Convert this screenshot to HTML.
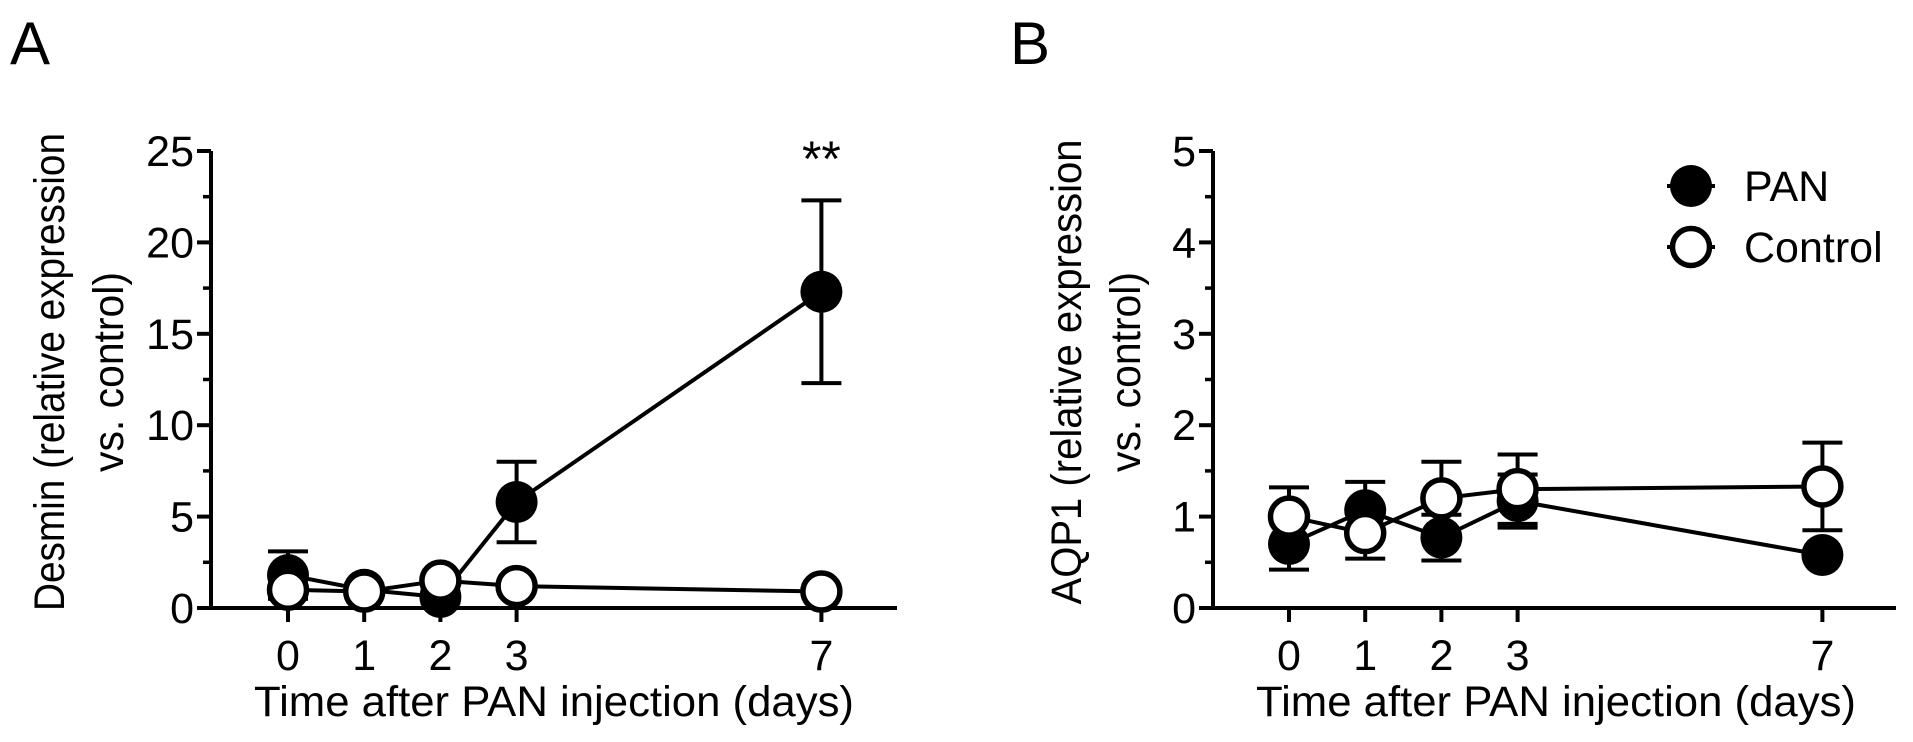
<!DOCTYPE html>
<html><head><meta charset="utf-8">
<style>
html,body{margin:0;padding:0;background:#fff;}
svg{display:block;font-family:"Liberation Sans",Arial,sans-serif;}
</style></head>
<body>
<svg id="fig" width="1913" height="742" viewBox="0 0 1913 742">
  <text x="10" y="64" font-size="60">A</text>
  <text x="1010" y="64" font-size="60">B</text>
</svg>
<script>
const days = [0, 1, 2, 3, 7];
const dayLabels = ["0", "1", "2", "3", "7"];
const desminPan = [1.8, 1.0, 0.6, 5.8, 17.3];
const desminPanErr = [1.3, 0.3, 0.3, 2.2, 5.0];
const desminCtl = [1.0, 0.9, 1.5, 1.2, 0.9];
const desminCtlErr = [0.3, 0.2, 0.2, 0.2, 0.2];
const desminTicks = [0, 5, 10, 15, 20, 25];
const aqpPan = [0.7, 1.07, 0.77, 1.17, 0.58];
const aqpPanErr = [0.28, 0.31, 0.25, 0.29, 0.05];
const aqpCtl = [1.0, 0.82, 1.2, 1.3, 1.33];
const aqpCtlErr = [0.32, 0.28, 0.4, 0.38, 0.48];
const aqpTicks = [0, 1, 2, 3, 4, 5];

const NS = "http://www.w3.org/2000/svg";
const svg = document.getElementById("fig");
const SW = 4;
function mk(tag, attrs, parent) {
  const e = document.createElementNS(NS, tag);
  for (const k in attrs) e.setAttribute(k, attrs[k]);
  (parent || svg).appendChild(e);
  return e;
}

function panel(cfg) {
  const g = mk("g", {});
  
  
  const x = d => cfg.x0 + d * cfg.dx;
  const y = v => cfg.y0 - (v / cfg.ymax) * (cfg.y0 - cfg.y1);
  const ya = mk("line", {x1: cfg.ax, y1: y(0), x2: cfg.ax, y2: y(cfg.ymax), stroke: "#000", "stroke-width": SW}, g);
  
  
  cfg.ticks.forEach((t, i) => {
    mk("line", {x1: cfg.ax - 14, y1: y(t), x2: cfg.ax, y2: y(t), stroke: "#000", "stroke-width": SW}, g);
    if (i < cfg.ticks.length - 1) {
      const m = (t + cfg.ticks[i + 1]) / 2;
      mk("line", {x1: cfg.ax - 8, y1: y(m), x2: cfg.ax, y2: y(m), stroke: "#000", "stroke-width": 3.5}, g);
    }
    const tl = mk("text", {x: cfg.ax - 17, y: y(t) + 15, "font-size": 43, "text-anchor": "end"}, g);
    tl.textContent = String(t);
    
    
  });
  const xa = mk("line", {x1: cfg.ax - 2, y1: y(0), x2: cfg.xend, y2: y(0), stroke: "#000", "stroke-width": SW}, g);
  
  
  days.forEach((d, i) => {
    mk("line", {x1: x(d), y1: y(0), x2: x(d), y2: y(0) + 14, stroke: "#000", "stroke-width": SW}, g);
    const tl = mk("text", {x: x(d), y: y(0) + 62, "font-size": 43, "text-anchor": "middle"}, g);
    tl.textContent = dayLabels[i];
    
    
  });
  const xt = mk("text", {x: cfg.xtitle, y: 716, "font-size": 43, "text-anchor": "middle", textLength: 600, lengthAdjust: "spacingAndGlyphs"}, g);
  xt.textContent = "Time after PAN injection (days)";
  
  
  const yt = mk("text", {transform: `translate(${cfg.ytx},372) rotate(-90)`, "font-size": 43, "text-anchor": "middle", textLength: cfg.ylen, lengthAdjust: "spacingAndGlyphs"}, g);
  yt.textContent = cfg.ytitle1;
  
  
  const yt2 = mk("text", {transform: `translate(${cfg.ytx + 59},372) rotate(-90)`, "font-size": 43, "text-anchor": "middle", textLength: 200, lengthAdjust: "spacingAndGlyphs"}, g);
  yt2.textContent = "vs. control)";
  
  

  function series(vals, errs, filled, nm) {
    const sg = mk("g", {}, g);
    
    
    const pts = days.map((d, i) => x(d) + "," + y(vals[i])).join(" ");
    mk("polyline", {points: pts, fill: "none", stroke: "#000", "stroke-width": SW}, sg);
    days.forEach((d, i) => {
      const cx = x(d), hi = y(vals[i] + errs[i]), lo = y(Math.max(0, vals[i] - errs[i]));
      mk("line", {x1: cx, y1: hi, x2: cx, y2: lo, stroke: "#000", "stroke-width": SW}, sg);
      mk("line", {x1: cx - 20, y1: hi, x2: cx + 20, y2: hi, stroke: "#000", "stroke-width": SW}, sg);
      mk("line", {x1: cx - 20, y1: lo, x2: cx + 20, y2: lo, stroke: "#000", "stroke-width": SW}, sg);
    });
    days.forEach((d, i) => {
      const c = mk("circle", {cx: x(d), cy: y(vals[i]), r: filled ? 21 : 18.5, fill: filled ? "#000" : "#fff", stroke: "#000", "stroke-width": filled ? 0 : 5.5}, sg);
      
      
    });
  }
  series(cfg.pan, cfg.panErr, true, "pan-series");
  series(cfg.ctl, cfg.ctlErr, false, "control-series");
  return {x, y, g};
}

const A = panel({name: "panel-a-chart", ax: 211, x0: 288, dx: 76.2, xend: 897, y0: 608, y1: 151, ymax: 25,
  ticks: desminTicks, xtitle: 554, ytx: 64, ylen: 478, ytitle1: "Desmin (relative expression",
  pan: desminPan, panErr: desminPanErr, ctl: desminCtl, ctlErr: desminCtlErr});
const star = mk("text", {x: A.x(7), y: 176, "font-size": 50, "text-anchor": "middle"});
star.textContent = "**";



const B = panel({name: "panel-b-chart", ax: 1213, x0: 1289, dx: 76.2, xend: 1896, y0: 608, y1: 151, ymax: 5,
  ticks: aqpTicks, xtitle: 1556, ytx: 1081, ylen: 465, ytitle1: "AQP1 (relative expression",
  pan: aqpPan, panErr: aqpPanErr, ctl: aqpCtl, ctlErr: aqpCtlErr});

const lg = mk("g", {});


[["PAN", true, 186], ["Control", false, 247]].forEach(([lab, f, ly]) => {
  const e = mk("g", {}, lg);
  
  
  mk("line", {x1: 1667, y1: ly, x2: 1715, y2: ly, stroke: "#000", "stroke-width": SW}, e);
  mk("circle", {cx: 1691, cy: ly, r: f ? 21 : 18.5, fill: f ? "#000" : "#fff", stroke: "#000", "stroke-width": f ? 0 : 5.5}, e);
  const t = mk("text", {x: 1744, y: ly + 15, "font-size": 43}, e);
  t.textContent = lab;
});
</script>
</body></html>
